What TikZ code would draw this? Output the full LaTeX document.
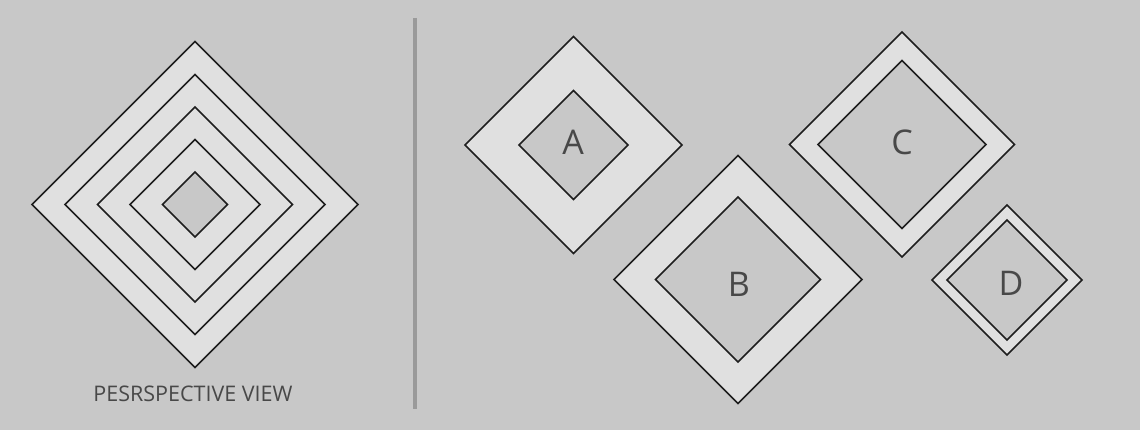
\documentclass[tikz,border=0pt]{standalone}
\usepackage{fontspec}
\setmainfont{Open Sans}
\definecolor{bg}{HTML}{C8C8C8}
\definecolor{lite}{HTML}{E0E0E0}
\definecolor{edge}{HTML}{1E1E1E}
\definecolor{txt}{HTML}{484848}
\definecolor{sep}{HTML}{9A9A9A}
\newcommand\dmd[4]{\path[#4] ({#1},{#2-#3}) -- ({#1+#3},{#2}) -- ({#1},{#2+#3}) -- ({#1-#3},{#2}) -- cycle;}
\begin{document}
\begin{tikzpicture}[x=1pt,y=-1pt,
  ring/.style={draw=edge,line width=1.7pt,fill=lite,line join=miter},
  core/.style={draw=edge,line width=1.7pt,fill=bg,line join=miter},
  letter/.style={text=txt,font=\fontsize{34}{40}\selectfont,inner sep=0pt,anchor=base},
  caption/.style={text=txt,font=\fontsize{21.5}{26}\selectfont,inner sep=0pt,anchor=base}]
\fill[bg] (0,0) rectangle (1140,430);
\useasboundingbox (0,0) rectangle (1140,430);
% left nested diamond
\dmd{195}{204.5}{163}{ring}
\dmd{195}{204.5}{130}{ring}
\dmd{195}{204.5}{97.5}{ring}
\dmd{195}{204.5}{65}{ring}
\dmd{195}{204.5}{32.5}{core}
\node[caption] (cap) at (193,401.5) {PESRSPECTIVE VIEW};
% separator
\coordinate (s1) at (415,18);
\coordinate (s2) at (415,409);
\draw[sep,line width=3.5pt] (s1) -- (s2);
% A
\dmd{573.5}{145}{108.5}{ring}
\dmd{573.5}{145}{54.5}{core}
\node[letter] (A) at (573,155) {A};
% B
\dmd{738}{279.5}{124}{ring}
\dmd{738}{279.5}{82.5}{core}
\node[letter] (B) at (739,296.5) {B};
% C
\dmd{902}{144.5}{112.5}{ring}
\dmd{902}{144.5}{84}{core}
\node[letter] (C) at (902,155) {C};
% D
\dmd{1007}{280}{75}{ring}
\dmd{1007}{280}{60}{core}
\node[letter] (D) at (1011,295.5) {D};
\end{tikzpicture}
\end{document}
